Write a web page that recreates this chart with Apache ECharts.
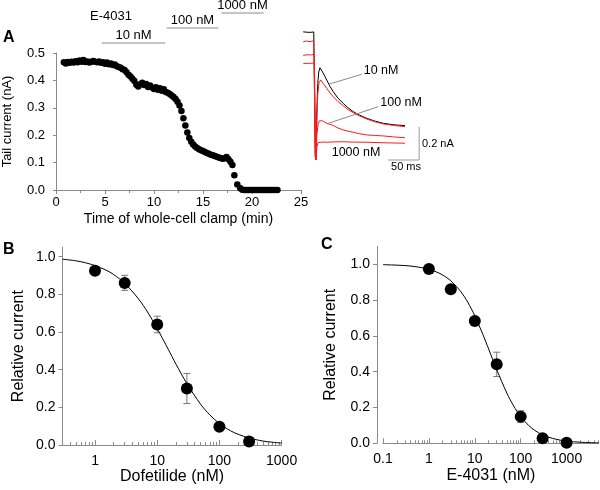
<!DOCTYPE html>
<html>
<head>
<meta charset="utf-8">
<script src="https://cdn.jsdelivr.net/npm/echarts@6.0.0/dist/echarts.min.js"></script>
<style>
  html, body { margin: 0; padding: 0; background: #fff; }
  #chart { width: 600px; height: 490px; }
</style>
</head>
<body>
<div id="chart"></div>
<script>
// ---- Panel A: tail current vs time ----
const timeMin = [
  0.8, 1.0, 1.2, 1.4, 1.6, 1.8, 2.0, 2.2, 2.4, 2.6,
  2.8, 3.0, 3.2, 3.4, 3.6, 3.8, 4.0, 4.2, 4.4, 4.6,
  4.8, 5.0, 5.2, 5.4, 5.6, 5.8, 6.0, 6.2, 6.4, 6.6,
  6.8, 7.0, 7.2, 7.4, 7.6, 7.8, 8.0, 8.2, 8.4, 8.6,
  8.8, 9.0, 9.2, 9.4, 9.6, 9.8, 10.0, 10.2, 10.4, 10.6,
  10.8, 11.0, 11.2, 11.4, 11.6, 11.8, 12.0, 12.2, 12.4, 12.6,
  12.8, 13.0, 13.2, 13.4, 13.6, 13.8, 14.0, 14.2, 14.4, 14.6,
  14.8, 15.0, 15.2, 15.4, 15.6, 15.8, 16.0, 16.2, 16.4, 16.6,
  16.8, 17.0, 17.2, 17.4, 17.6, 17.8, 18.0, 18.2, 18.5, 18.8,
  19.0, 19.2, 19.4, 19.6, 19.8, 20.0, 20.2, 20.4, 20.6, 20.8,
  21.0, 21.2, 21.4, 21.6, 21.8, 22.0, 22.2, 22.4, 22.6
];
const tailCurrent = [
  0.466, 0.462, 0.467, 0.464, 0.468, 0.465, 0.470, 0.466, 0.473, 0.468,
  0.474, 0.467, 0.469, 0.465, 0.468, 0.471, 0.468, 0.466, 0.469, 0.464,
  0.466, 0.461, 0.465, 0.459, 0.462, 0.456, 0.458, 0.452, 0.449, 0.446,
  0.441, 0.438, 0.430, 0.421, 0.414, 0.406, 0.398, 0.384, 0.378, 0.386,
  0.391, 0.383, 0.387, 0.376, 0.381, 0.374, 0.369, 0.375, 0.366, 0.371,
  0.362, 0.368, 0.358, 0.355, 0.350, 0.345, 0.339, 0.332, 0.322, 0.308,
  0.288, 0.262, 0.235, 0.210, 0.190, 0.176, 0.166, 0.159, 0.153, 0.149,
  0.145, 0.142, 0.139, 0.135, 0.132, 0.129, 0.127, 0.124, 0.121, 0.119,
  0.117, 0.114, 0.116, 0.120, 0.112, 0.103, 0.091, 0.054, 0.020, 0.006,
  0.001, 0, 0, 0, 0, 0, 0, 0, 0, 0,
  0, 0, 0, 0, 0, 0, 0, 0, 0
];

// E-4031 application periods (min)
const drugLabels = ['10 nM', '100 nM', '1000 nM'];
const drugStart = [4.75, 11.35, 16.9];
const drugEnd = [11.2, 16.6, 21.2];

// inset current traces [ms, nA]
const traceControl = [
  [-19, 0.772], [-16, 0.778], [-14, 0.770], [-11, 0.775], [-8, 0.769], [-5, 0.774], [-2, 0.771], [0, 0.773],
  [0.6, 0.02], [1.5, 0.0], [3, 0.30], [4.5, 0.46], [6, 0.53], [8, 0.556], [10, 0.550], [13, 0.525],
  [18.9, 0.482], [24, 0.445], [29.5, 0.411], [37, 0.373], [45.6, 0.341], [53, 0.315], [61.8, 0.291],
  [72, 0.270], [83.4, 0.251], [96, 0.235], [110.2, 0.221], [127, 0.212], [145.2, 0.207]
];
const trace10 = [
  [-19, 0.712], [-17, 0.722], [-14, 0.717], [-11, 0.720], [-8, 0.713], [-5, 0.721], [-2, 0.718], [0, 0.719],
  [0.6, 0.02], [1.5, 0.0], [3, 0.25], [4.5, 0.40], [6.5, 0.465], [9.2, 0.482], [12, 0.470],
  [18.9, 0.432], [24, 0.405], [29.5, 0.381], [37, 0.352], [45.6, 0.327], [53, 0.304], [61.8, 0.285],
  [72, 0.265], [83.4, 0.247], [96, 0.231], [110.2, 0.217], [127, 0.208], [145.2, 0.201]
];
const trace100 = [
  [-19, 0.630], [-16, 0.640], [-13, 0.634], [-10, 0.642], [-7, 0.633], [-4, 0.640], [-1, 0.636], [0, 0.637],
  [0.6, 0.02], [1.5, 0.0], [3, 0.15], [5, 0.215], [7, 0.236], [9.2, 0.241], [12, 0.236],
  [18.9, 0.221], [24, 0.215], [29.5, 0.208], [37, 0.193], [45.6, 0.181], [53, 0.174], [61.8, 0.167],
  [72, 0.158], [83.4, 0.151], [96, 0.148], [110.2, 0.145], [127, 0.139], [145.2, 0.134]
];
const trace1000 = [
  [-19, 0.580], [-16, 0.589], [-13, 0.583], [-10, 0.590], [-7, 0.582], [-4, 0.588], [-1, 0.585], [0, 0.586],
  [0.6, 0.02], [1.5, 0.0], [3, 0.08], [5, 0.105], [7, 0.110], [12, 0.108], [18.9, 0.107], [30, 0.109],
  [45.6, 0.110], [60, 0.108], [83.4, 0.107], [110, 0.104], [145.2, 0.101]
];
const scaleBar = [[118, 0], [168, 0], [168, 0.2]];   // 50 ms, 0.2 nA

// ---- Panel B: dofetilide ----
const dofConc = [1, 3, 10, 30, 100, 300];
const dofMean = [0.925, 0.861, 0.640, 0.300, 0.097, 0.018];
const dofErr = [0.01, 0.040, 0.044, 0.080, 0.01, 0.01];
const dofFitConc = [0.3, 0.5, 0.7, 1, 1.5, 2, 3, 5, 7, 10, 15, 20, 30, 50, 70, 100, 150, 200, 300, 500, 700, 1000];
const dofFit = [0.987, 0.978, 0.968, 0.953, 0.929, 0.905, 0.859, 0.776, 0.706, 0.618, 0.509, 0.430, 0.326,
  0.216, 0.160, 0.114, 0.076, 0.057, 0.037, 0.021, 0.015, 0.010];

// ---- Panel C: E-4031 ----
const e4031Conc = [1, 3, 10, 30, 100, 300, 1000];
const e4031Mean = [0.974, 0.860, 0.683, 0.441, 0.149, 0.028, 0.003];
const e4031Err = [0.01, 0.01, 0.01, 0.068, 0.033, 0.01, 0.01];
const e4031FitConc = [0.1, 0.3, 0.5, 0.7, 1, 1.5, 2, 3, 5, 7, 10, 15, 20, 30, 50, 70, 100, 150, 200, 300, 500, 1000, 2000, 5000];
const e4031Fit = [0.998, 0.993, 0.987, 0.981, 0.972, 0.956, 0.940, 0.908, 0.846, 0.789, 0.712, 0.608, 0.527,
  0.412, 0.280, 0.209, 0.149, 0.099, 0.073, 0.047, 0.027, 0.012, 0.006, 0.002];

// tick values
const relTicks = [0, 0.2, 0.4, 0.6, 0.8, 1.0];
const dofMajor = [1, 10, 100, 1000];
const dofMinor = [0.3, 0.4, 0.5, 0.6, 0.7, 0.8, 0.9, 2, 3, 4, 5, 6, 7, 8, 9,
  20, 30, 40, 50, 60, 70, 80, 90, 200, 300, 400, 500, 600, 700, 800, 900];
const e4031Major = [0.1, 1, 10, 100, 1000];
const e4031Minor = [0.2, 0.3, 0.4, 0.5, 0.6, 0.7, 0.8, 0.9, 2, 3, 4, 5, 6, 7, 8, 9,
  20, 30, 40, 50, 60, 70, 80, 90, 200, 300, 400, 500, 600, 700, 800, 900, 2000, 3000, 4000, 5000];

const FONT = 'Liberation Sans, Arial, sans-serif';
const GRAY = '#8a8a8a';
const RED = '#ff1a1a';

const chart = echarts.init(document.getElementById('chart'));

const zip = (xs, ys) => xs.map((x, i) => [x, ys[i]]);

function errorBars(xIdx, yIdx, conc, mean, err) {
  return {
    type: 'custom',
    xAxisIndex: xIdx,
    yAxisIndex: yIdx,
    z: 1,
    data: conc.map((c, i) => [c, mean[i], err[i]]),
    renderItem: (params, api) => {
      const x = api.value(0), y = api.value(1), e = api.value(2);
      const top = api.coord([x, y + e]);
      const bot = api.coord([x, y - e]);
      const cap = 3.5;
      const style = { stroke: '#777', lineWidth: 1 };
      return {
        type: 'group',
        children: [
          { type: 'line', shape: { x1: top[0], y1: top[1], x2: bot[0], y2: bot[1] }, style },
          { type: 'line', shape: { x1: top[0] - cap, y1: top[1], x2: top[0] + cap, y2: top[1] }, style },
          { type: 'line', shape: { x1: bot[0] - cap, y1: bot[1], x2: bot[0] + cap, y2: bot[1] }, style }
        ]
      };
    }
  };
}

function leader(name, points) {
  return {
    name, type: 'line', xAxisIndex: 2, yAxisIndex: 2, showSymbol: false,
    lineStyle: { color: GRAY, width: 1 }, z: 4, data: points,
    endLabel: { show: true, formatter: name, distance: 2, offset: [0, -4],
                color: '#000', fontFamily: FONT, fontSize: 12.5 }
  };
}

const axisLine = { show: true, lineStyle: { color: GRAY, width: 1 } };
const tickStyle = { color: GRAY, width: 1 };
const labelStyle = (size) => ({ color: '#000', fontFamily: FONT, fontSize: size });

const option = {
  animation: false,
  backgroundColor: '#fff',
  grid: [
    { left: 55, top: 53, width: 246, height: 137 },      // A main
    { left: 55, top: 0, width: 246, height: 58 },        // A drug bars
    { left: 302.6, top: 10.6, width: 124, height: 166 }, // A inset
    { left: 62.5, top: 247.3, width: 219.1, height: 197.7 }, // B
    { left: 383, top: 246.4, width: 215.7, height: 196.9 }   // C
  ],
  xAxis: [
    {
      gridIndex: 0, type: 'value', min: 0, max: 25, interval: 5,
      axisLine, splitLine: { show: false },
      axisTick: { show: true, length: 4, lineStyle: tickStyle },
      minorTick: { show: true, splitNumber: 2, length: 3, lineStyle: tickStyle },
      axisLabel: { ...labelStyle(13), margin: 6 },
      name: 'Time of whole-cell clamp (min)', nameLocation: 'middle', nameGap: 22,
      nameTextStyle: labelStyle(14)
    },
    { gridIndex: 1, type: 'value', min: 0, max: 25, show: false },
    { gridIndex: 2, type: 'value', min: -20, max: 180, show: false },
    {
      gridIndex: 3, type: 'log', logBase: 10, min: 0.3, max: 1000, position: 'bottom',
      axisLine, splitLine: { show: false },
      axisTick: { show: true, inside: true, length: 5, lineStyle: tickStyle, customValues: dofMajor },
      axisLabel: { ...labelStyle(14), margin: 9, customValues: dofMajor, formatter: (v) => String(v) },
      name: 'Dofetilide (nM)', nameLocation: 'middle', nameGap: 19,
      nameTextStyle: labelStyle(16)
    },
    {
      gridIndex: 3, type: 'log', logBase: 10, min: 0.3, max: 1000, position: 'bottom',
      axisLine: { show: false }, splitLine: { show: false }, axisLabel: { show: false },
      axisTick: { show: true, inside: true, length: 3, lineStyle: tickStyle, customValues: dofMinor }
    },
    {
      gridIndex: 4, type: 'log', logBase: 10, min: 0.1, max: 5000, position: 'bottom',
      axisLine, splitLine: { show: false },
      axisTick: { show: true, inside: true, length: 5, lineStyle: tickStyle, customValues: e4031Major },
      axisLabel: { ...labelStyle(14), margin: 9, customValues: e4031Major, formatter: (v) => String(v) },
      name: 'E-4031 (nM)', nameLocation: 'middle', nameGap: 19,
      nameTextStyle: labelStyle(16)
    },
    {
      gridIndex: 4, type: 'log', logBase: 10, min: 0.1, max: 5000, position: 'bottom',
      axisLine: { show: false }, splitLine: { show: false }, axisLabel: { show: false },
      axisTick: { show: true, inside: true, length: 3, lineStyle: tickStyle, customValues: e4031Minor }
    }
  ],
  yAxis: [
    {
      gridIndex: 0, type: 'value', min: 0, max: 0.5, interval: 0.1, offset: 6,
      axisLine, splitLine: { show: false },
      axisTick: { show: true, length: 3, lineStyle: tickStyle },
      axisLabel: { ...labelStyle(13), margin: 5, formatter: (v) => v.toFixed(1) },
      name: 'Tail current (nA)', nameLocation: 'middle', nameGap: 36,
      nameTextStyle: labelStyle(13)
    },
    { gridIndex: 1, type: 'value', min: 0, max: 58 / 15, show: false },
    { gridIndex: 2, type: 'value', min: -0.1, max: 0.9, show: false },
    {
      gridIndex: 3, type: 'value', min: 0, max: 1.05,
      axisLine, splitLine: { show: false },
      axisTick: { show: true, length: 4, lineStyle: tickStyle, customValues: relTicks },
      axisLabel: { ...labelStyle(14), margin: 7, customValues: relTicks, formatter: (v) => v.toFixed(1) },
      name: 'Relative current', nameLocation: 'middle', nameGap: 36,
      nameTextStyle: labelStyle(16)
    },
    {
      gridIndex: 4, type: 'value', min: 0, max: 1.1, offset: 6,
      axisLine, splitLine: { show: false },
      axisTick: { show: true, length: 4, lineStyle: tickStyle, customValues: relTicks },
      axisLabel: { ...labelStyle(14), margin: 7, customValues: relTicks, formatter: (v) => v.toFixed(1) },
      name: 'Relative current', nameLocation: 'middle', nameGap: 38,
      nameTextStyle: labelStyle(16)
    }
  ],
  series: [
    {
      name: 'Tail current', type: 'scatter', xAxisIndex: 0, yAxisIndex: 0,
      symbolSize: 6.5, itemStyle: { color: '#000', opacity: 1 },
      data: zip(timeMin, tailCurrent)
    },
    {
      name: 'E-4031 bars', type: 'custom', xAxisIndex: 1, yAxisIndex: 1,
      data: drugLabels.map((_, i) => [drugStart[i], drugEnd[i], i + 1]),
      renderItem: (params, api) => {
        const p1 = api.coord([api.value(0), api.value(2)]);
        const p2 = api.coord([api.value(1), api.value(2)]);
        return {
          type: 'group',
          children: [
            { type: 'line', shape: { x1: p1[0], y1: p1[1], x2: p2[0], y2: p2[1] },
              style: { stroke: GRAY, lineWidth: 1 } },
            { type: 'text', x: (p1[0] + p2[0]) / 2, y: p1[1] - 1,
              style: { text: drugLabels[params.dataIndex], fill: '#000', font: '13px ' + FONT,
                       align: 'center', verticalAlign: 'bottom' } }
          ]
        };
      }
    },
    {
      name: 'Control', type: 'line', xAxisIndex: 2, yAxisIndex: 2, showSymbol: false,
      lineStyle: { color: '#000', width: 1 }, data: traceControl, z: 2
    },
    {
      name: '10 nM trace', type: 'line', xAxisIndex: 2, yAxisIndex: 2, showSymbol: false,
      lineStyle: { color: RED, width: 1 }, data: trace10, z: 3
    },
    {
      name: '100 nM trace', type: 'line', xAxisIndex: 2, yAxisIndex: 2, showSymbol: false,
      lineStyle: { color: RED, width: 1 }, data: trace100, z: 3
    },
    {
      name: '1000 nM trace', type: 'line', xAxisIndex: 2, yAxisIndex: 2, showSymbol: false,
      lineStyle: { color: RED, width: 1 }, data: trace1000, z: 3
    },
    {
      name: 'Scale bar', type: 'line', xAxisIndex: 2, yAxisIndex: 2, showSymbol: false,
      lineStyle: { color: '#9a9a9a', width: 1 }, data: scaleBar
    },
    leader('10 nM', [[21.5, 0.456], [75.3, 0.516]]),
    leader('100 nM', [[21.5, 0.221], [102, 0.321]]),
    errorBars(3, 3, dofConc, dofMean, dofErr),
    {
      name: 'Dofetilide fit', type: 'line', xAxisIndex: 3, yAxisIndex: 3, showSymbol: false,
      smooth: 0.3, lineStyle: { color: '#000', width: 1 }, z: 2, data: zip(dofFitConc, dofFit)
    },
    {
      name: 'Dofetilide', type: 'scatter', xAxisIndex: 3, yAxisIndex: 3, symbolSize: 12,
      itemStyle: { color: '#000', opacity: 1 }, z: 3, data: zip(dofConc, dofMean)
    },
    errorBars(5, 4, e4031Conc, e4031Mean, e4031Err),
    {
      name: 'E-4031 fit', type: 'line', xAxisIndex: 5, yAxisIndex: 4, showSymbol: false,
      smooth: 0.3, lineStyle: { color: '#000', width: 1 }, z: 2, data: zip(e4031FitConc, e4031Fit)
    },
    {
      name: 'E-4031', type: 'scatter', xAxisIndex: 5, yAxisIndex: 4, symbolSize: 12,
      itemStyle: { color: '#000', opacity: 1 }, z: 3, data: zip(e4031Conc, e4031Mean)
    }
  ],
  graphic: [
    { type: 'text', left: 3, top: 30, style: { text: 'A', font: 'bold 16px ' + FONT, fill: '#000' } },
    { type: 'text', left: 3, top: 242, style: { text: 'B', font: 'bold 16px ' + FONT, fill: '#000' } },
    { type: 'text', left: 321, top: 237, style: { text: 'C', font: 'bold 16px ' + FONT, fill: '#000' } },
    { type: 'text', x: 111, y: 16, style: { text: 'E-4031', font: '13px ' + FONT, fill: '#000',
      align: 'center', verticalAlign: 'middle' } },
    { type: 'text', x: 356, y: 153, style: { text: '1000 nM', font: '12.5px ' + FONT, fill: '#000',
      align: 'center', verticalAlign: 'middle' } },
    { type: 'text', x: 422, y: 144, style: { text: '0.2 nA', font: '11px ' + FONT, fill: '#000',
      align: 'left', verticalAlign: 'middle' } },
    { type: 'text', x: 406, y: 167, style: { text: '50 ms', font: '11px ' + FONT, fill: '#000',
      align: 'center', verticalAlign: 'middle' } }
  ]
};

chart.setOption(option);
</script>
</body>
</html>
